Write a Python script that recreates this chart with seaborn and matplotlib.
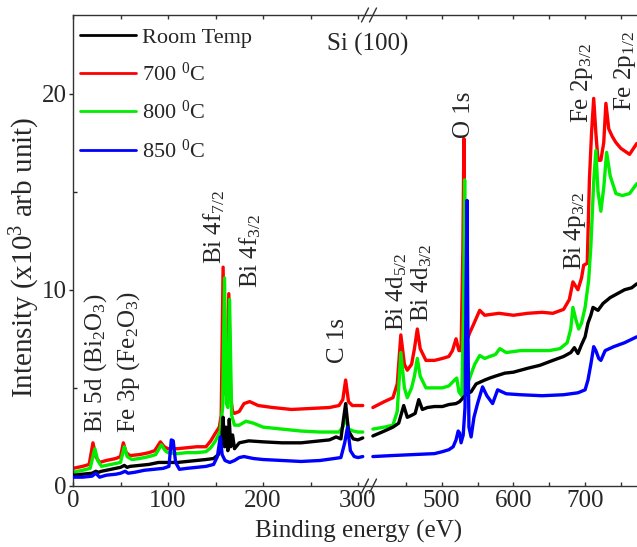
import matplotlib
matplotlib.use("Agg")
import matplotlib.pyplot as plt
from matplotlib.ticker import MultipleLocator, FixedLocator
from matplotlib.lines import Line2D
import seaborn as sns

# ---------------- data (binding energy in eV, intensity in 10^3 arb. units) -------------
# low-energy segment (0 - 312 eV)
E_LO_RT = [0, 10, 20, 24, 27, 30, 40, 50, 54, 57, 60, 70, 80, 90, 100, 110, 120, 130, 140, 148,
           153, 156, 158, 159.5, 161, 163, 164.5, 166, 168, 170, 175, 185, 200, 220, 240, 260,
           270, 277, 282, 285, 287, 290, 295, 300, 305]
I_LO_RT = [0.55, 0.6, 0.65, 0.75, 0.7, 0.75, 0.85, 0.95, 1.05, 0.95, 1.0, 1.05, 1.1, 1.2, 1.2,
           1.2, 1.25, 1.3, 1.35, 1.4, 1.6, 1.9, 3.5, 2.0, 3.0, 1.8, 3.4, 2.0, 2.6, 1.9, 2.2, 2.3,
           2.25, 2.2, 2.2, 2.3, 2.35, 2.5, 2.4, 3.5, 4.2, 2.8, 2.4, 2.35, 2.45]

E_LO_700 = [0, 10, 17, 21, 24, 28, 35, 45, 50, 53, 56, 60, 70, 80, 86, 92, 96, 100, 110, 120,
            130, 140, 145, 150, 154, 156, 158, 160, 161.5, 164, 166, 168, 170, 175, 180, 186,
            195, 210, 230, 250, 270, 280, 284, 287, 290, 294, 300, 305]
I_LO_700 = [0.9, 1.0, 1.1, 2.2, 1.5, 1.2, 1.3, 1.4, 1.5, 2.2, 1.7, 1.55, 1.6, 1.7, 1.8, 2.25,
            2.0, 1.9, 1.9, 1.95, 2.0, 2.0, 2.3, 2.7, 3.0, 3.6, 11.15, 5.0, 4.6, 9.8, 4.5, 3.8,
            3.7, 3.8, 4.2, 4.3, 4.1, 4.0, 3.9, 3.95, 4.0, 4.1, 4.4, 5.4, 4.3, 4.1, 4.1, 4.1]

E_LO_800 = [0, 10, 18, 23, 26, 30, 40, 50, 54, 57, 62, 70, 80, 87, 93, 97, 100, 110, 120, 130,
            140, 145, 150, 155, 157.5, 159.5, 161.5, 163, 164.8, 167, 170, 175, 182, 190, 200,
            220, 240, 260, 280, 284, 287, 290, 295, 300, 305]
I_LO_800 = [0.7, 0.8, 0.9, 1.9, 1.3, 1.0, 1.1, 1.2, 2.0, 1.5, 1.35, 1.4, 1.5, 1.6, 2.1, 1.8,
            1.7, 1.65, 1.7, 1.7, 1.75, 1.95, 2.3, 2.8, 4.0, 10.6, 4.2, 4.0, 9.5, 3.6, 3.1, 3.1,
            3.3, 3.2, 3.0, 2.9, 2.8, 2.75, 2.75, 3.0, 3.5, 2.9, 2.8, 2.75, 2.75]

E_LO_850 = [0, 10, 20, 24, 28, 35, 45, 50, 55, 58, 65, 75, 85, 95, 101, 103.5, 105.5, 108, 112,
            120, 130, 140, 148, 152, 155, 157, 160, 165, 170, 175, 180, 190, 200, 220, 240, 260,
            275, 282, 286, 289, 292, 296, 300, 305]
I_LO_850 = [0.45, 0.45, 0.5, 0.65, 0.45, 0.55, 0.6, 0.65, 0.75, 0.65, 0.7, 0.8, 0.85, 0.9, 1.0,
            2.35, 2.3, 1.2, 0.85, 0.9, 0.95, 1.0, 1.1, 1.5, 2.5, 1.6, 1.3, 1.2, 1.3, 1.45, 1.5,
            1.4, 1.35, 1.3, 1.25, 1.3, 1.4, 1.45, 2.2, 3.0, 1.8, 1.5, 1.45, 1.5]

# high-energy segment (400 - 776 eV)
E_HI_RT = [404, 420, 432, 440, 447, 452, 458, 463, 468, 473, 480, 490, 501, 510, 520, 525, 530,
           535, 541, 548, 560, 567, 575, 588, 600, 610, 620, 637, 655, 670, 680, 685, 690, 695,
           700, 704, 708, 711, 718, 725, 735, 745, 755, 765, 772]
I_HI_RT = [2.55, 2.8, 3.0, 3.2, 4.1, 3.5, 3.6, 3.7, 4.4, 3.9, 4.0, 4.05, 4.05, 4.15, 4.2, 4.3,
           4.5, 4.7, 4.8, 5.2, 5.4, 5.5, 5.6, 5.75, 5.8, 5.9, 6.0, 6.15, 6.4, 6.6, 6.8, 7.05,
           6.75, 7.2, 7.6, 8.3, 8.7, 9.1, 8.95, 9.3, 9.6, 9.8, 10.0, 10.1, 10.3]

E_HI_700 = [404, 420, 432, 438, 443, 448, 452, 458, 462, 466, 470, 478, 490, 501, 510, 515, 520,
            524, 527, 529.5, 531, 532.5, 535, 539, 544, 553, 560, 580, 600, 620, 640, 655, 670,
            678, 683, 690, 695, 698, 703, 706, 709, 712, 715, 718, 722, 726, 729, 733, 738, 743,
            750, 762, 772]
I_HI_700 = [4.0, 4.3, 4.5, 5.2, 7.7, 6.2, 5.9, 6.2, 7.0, 8.0, 7.0, 6.4, 6.4, 6.5, 6.6, 6.9,
            7.5, 6.9, 6.9, 12.0, 17.7, 10.0, 7.4, 7.8, 8.2, 8.95, 8.7, 8.8, 8.7, 8.8, 8.85, 8.8,
            9.0, 9.5, 10.4, 10.0, 10.6, 11.25, 11.35, 15.6, 18.0, 19.75, 18.0, 16.6, 16.6, 17.5,
            19.5, 18.2, 17.8, 17.5, 17.2, 16.9, 17.45]

E_HI_800 = [404, 420, 432, 438, 443, 448, 452, 458, 462, 466, 470, 478, 490, 501, 510, 518, 521,
            524, 528, 530.5, 532, 533.5, 536, 540, 546, 553, 560, 567, 575, 581, 590, 610, 630,
            650, 665, 675, 680, 683, 687, 691, 695, 700, 705, 708, 712, 715, 718, 722, 726, 730,
            735, 743, 752, 762, 772]
I_HI_800 = [2.9, 3.0, 3.1, 3.8, 6.8, 5.0, 4.5, 5.0, 5.6, 6.5, 5.6, 5.0, 5.0, 5.0, 5.1, 5.4,
            5.5, 4.8, 4.6, 9.0, 15.6, 9.0, 5.2, 5.6, 6.2, 6.65, 6.5, 6.6, 6.7, 7.0, 6.8, 6.9,
            6.9, 6.9, 7.0, 7.3, 8.0, 9.1, 8.5, 8.0, 8.3, 9.1, 10.5, 12.2, 15.5, 17.1, 15.0, 14.0,
            15.2, 17.0, 15.8, 14.9, 14.8, 14.9, 15.4]

E_HI_850 = [404, 430, 460, 490, 501, 510, 516, 520, 523, 525, 527, 530, 532.5, 534, 535.3,
            536.5, 538, 541, 545, 550, 557, 563, 571, 578, 590, 610, 640, 670, 690, 700, 704,
            708, 712, 715, 719, 722, 728, 740, 755, 772]
I_HI_850 = [1.5, 1.55, 1.6, 1.65, 1.75, 1.85, 2.0, 2.35, 2.8, 2.7, 2.2, 2.6, 4.0, 10.0, 14.55,
            8.0, 3.0, 2.5, 3.5, 4.2, 5.05, 4.6, 4.2, 4.9, 4.7, 4.65, 4.6, 4.65, 4.75, 4.9, 5.4,
            6.2, 7.1, 6.9, 6.5, 6.4, 6.9, 7.1, 7.3, 7.6]

LABELS = ["Room Temp", "700 $^0$C", "800 $^0$C", "850 $^0$C"]
COLORS = ["#000000", "#ff0000", "#00ee00", "#0000ff"]
ZORDERS = [3, 1, 2, 4]

PEAKS_LO = [("Bi 5d (Bi$_2$O$_3$)", 23.5, 2.7), ("Fe 3p (Fe$_2$O$_3$)", 59, 2.7),
            ("Bi 4f$_{7/2}$", 149, 11.3), ("Bi 4f$_{3/2}$", 187, 10.1), ("C 1s", 279, 6.25)]
PEAKS_HI = [("Bi 4d$_{5/2}$", 437, 7.9), ("Bi 4d$_{3/2}$", 472, 8.35), ("O 1s", 531, 17.75),
            ("Bi 4p$_{3/2}$", 685.5, 11.0), ("Fe 2p$_{3/2}$", 696, 18.5),
            ("Fe 2p$_{1/2}$", 755, 19.1)]

# ---------------- style -------------
sns.set_style("ticks")
plt.rcParams["font.family"] = ["Liberation Serif", "DejaVu Serif"]
plt.rcParams["mathtext.default"] = "regular"

W, H = 637, 547
fig = plt.figure(figsize=(W / 100, H / 100), dpi=100)
x0, xb, xr = 73, 370, 640
ybot, ytop = 486, 15
axL = fig.add_axes([x0 / W, (H - ybot) / H, (xb - x0) / W, (ybot - ytop) / H])
axR = fig.add_axes([xb / W, (H - ybot) / H, (xr - xb) / W, (ybot - ytop) / H], sharey=axL)

LW = 2.4
lo = [(E_LO_RT, I_LO_RT), (E_LO_700, I_LO_700), (E_LO_800, I_LO_800), (E_LO_850, I_LO_850)]
hi = [(E_HI_RT, I_HI_RT), (E_HI_700, I_HI_700), (E_HI_800, I_HI_800), (E_HI_850, I_HI_850)]

for (e, i), lab, c, z in zip(lo, LABELS, COLORS, ZORDERS):
    sns.lineplot(x=e, y=i, ax=axL, color=c, linewidth=LW, estimator=None, sort=False,
                 label=lab, zorder=z)
for (e, i), c, z in zip(hi, COLORS, ZORDERS):
    sns.lineplot(x=e, y=i, ax=axR, color=c, linewidth=LW, estimator=None, sort=False,
                 legend=False, zorder=z)

axL.set_xlim(0, (xb - x0) / 0.95)
axR.set_xlim(400, 400 + (xr - xb) / 0.717)
axL.set_ylim(0, 24)

for ax in (axL, axR):
    for s in ax.spines.values():
        s.set_linewidth(1.0)
        s.set_color("#333333")
axL.spines["right"].set_visible(False)
axR.spines["left"].set_visible(False)
axR.spines["right"].set_visible(False)

axL.xaxis.set_major_locator(MultipleLocator(100))
axL.xaxis.set_minor_locator(MultipleLocator(50))
axR.xaxis.set_major_locator(FixedLocator([500, 600, 700]))
axR.xaxis.set_minor_locator(FixedLocator([450, 550, 650, 750]))
axL.yaxis.set_major_locator(MultipleLocator(10))
axL.yaxis.set_minor_locator(MultipleLocator(5))

for ax in (axL, axR):
    ax.tick_params(axis="x", which="both", direction="in", top=True, bottom=True,
                   length=3, width=1, labelsize=18, pad=3, color="#333333")
axL.tick_params(axis="y", which="major", direction="out", left=True, right=False,
                length=3, width=1, labelsize=18, pad=1.5)
axL.tick_params(axis="y", which="minor", direction="in", left=True, right=False,
                length=3, width=1)
axR.tick_params(axis="y", which="both", left=False, right=False, labelleft=False)

axL.set_xlabel("")
axR.set_xlabel("")
axL.set_ylabel("Intensity (x10$^3$ arb unit)", fontsize=21)
axL.yaxis.set_label_coords((42 - x0) / (xb - x0), 0.485)
fig.text(359 / W, 1 - 531 / H, "Binding energy (eV)", ha="center", va="center", fontsize=18)

for txt, e, y in PEAKS_LO:
    axL.text(e, y, txt, rotation=90, ha="center", va="bottom", fontsize=18)
for txt, e, y in PEAKS_HI:
    axR.text(e, y, txt, rotation=90, ha="center", va="bottom", fontsize=18)
fig.text(368 / W, 1 - 44 / H, "Si (100)", ha="center", va="center", fontsize=18)

# legend in order Room Temp, 700, 800, 850
handles, labels = axL.get_legend_handles_labels()
leg = axL.legend(handles, labels, loc="upper left",
                 bbox_to_anchor=((80 - x0) / (xb - x0), (ybot - 27) / (ybot - ytop)),
                 frameon=False, fontsize=16, handlelength=2.5, handletextpad=0.3,
                 labelspacing=0.68, borderpad=0, borderaxespad=0)
for lh in leg.get_lines():
    lh.set_linewidth(2.0)

# axis-break marks
for yy in (ytop, ybot):
    for cx in (365, 373):
        fig.add_artist(Line2D([(cx - 3.5) / W, (cx + 3.5) / W],
                              [1 - (yy + 7) / H, 1 - (yy - 7) / H],
                              color="#333333", linewidth=1.0))

fig.savefig("out.png", dpi=100)
